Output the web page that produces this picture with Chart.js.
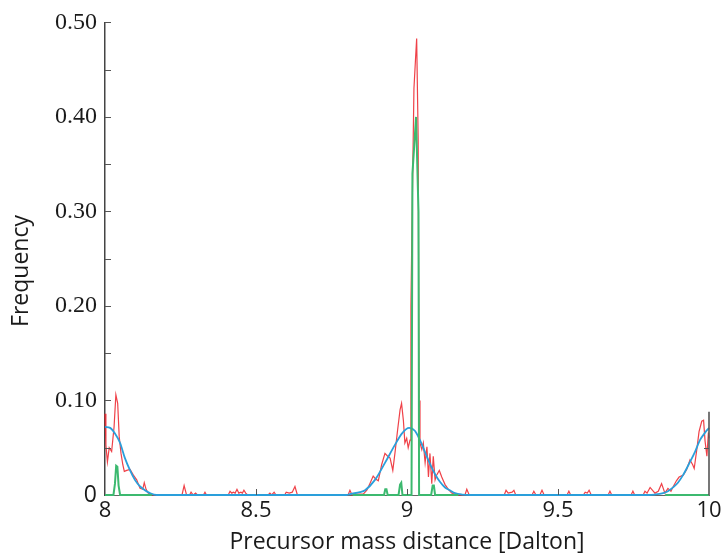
<!DOCTYPE html>
<html lang="en">
<head>
<meta charset="UTF-8">
<title>Precursor mass distance</title>
<script src="https://cdn.jsdelivr.net/npm/chart.js@4"></script>
<style>
  body { margin: 0; background: #fff; }
  #chart { display: block; }
</style>
</head>
<body>
<canvas id="chart" width="726" height="556"></canvas>
<script>
// axis ticks
const xTicks = [8, 8.5, 9, 9.5, 10];
const xTickLabels = ["8", "8.5", "9", "9.5", "10"];
const yTicks = [0, 0.1, 0.2, 0.3, 0.4, 0.5];
const yTickLabels = ["0", "0.10", "0.20", "0.30", "0.40", "0.50"];
const yMinorTicks = [0.05, 0.15, 0.25, 0.35, 0.45];
const xInnerTicks = [8.5, 9, 9.5];
const rightEdgeTop = 0.088;
const yTitle = 'Frequency';

// observed distances (red)
const redX = [8.000, 8.003, 8.008, 8.014, 8.022, 8.030, 8.036, 8.042, 8.047, 8.053,
  8.059, 8.064, 8.072, 8.083, 8.094, 8.105, 8.116, 8.125, 8.130, 8.136, 8.143, 8.156,
  8.255, 8.262, 8.270, 8.280, 8.285, 8.292, 8.300, 8.306, 8.326, 8.331, 8.336,
  8.408, 8.414, 8.420, 8.425, 8.431, 8.437, 8.443, 8.450, 8.455, 8.460, 8.466, 8.472,
  8.540, 8.546, 8.552, 8.560, 8.566, 8.595, 8.600, 8.610, 8.620, 8.629, 8.637,
  8.805, 8.811, 8.818, 8.833, 8.855, 8.867, 8.877, 8.888, 8.896, 8.905, 8.916, 8.927,
  8.936, 8.944, 8.953, 8.960, 8.969, 8.977, 8.982, 8.988, 8.993, 8.999, 9.004, 9.010,
  9.013, 9.018, 9.023, 9.028, 9.032, 9.037, 9.040, 9.043, 9.049, 9.054, 9.060, 9.066,
  9.071, 9.076, 9.082, 9.087, 9.093, 9.098, 9.107, 9.115, 9.126, 9.137, 9.148, 9.165,
  9.192, 9.198, 9.206, 9.322, 9.328, 9.335, 9.348, 9.354, 9.360, 9.414, 9.420, 9.427,
  9.440, 9.447, 9.454, 9.530, 9.536, 9.542, 9.584, 9.590, 9.597, 9.603, 9.610,
  9.666, 9.672, 9.678, 9.742, 9.748, 9.754, 9.782, 9.788, 9.795, 9.805, 9.821, 9.832,
  9.843, 9.854, 9.864, 9.874, 9.880, 9.892, 9.901, 9.915, 9.926, 9.937, 9.946, 9.951,
  9.960, 9.967, 9.976, 9.982, 9.987, 9.993, 9.998, 10.000];
const redY = [0.086, 0.053, 0.035, 0.050, 0.046, 0.072, 0.106, 0.097, 0.062, 0.044,
  0.032, 0.025, 0.026, 0.027, 0.021, 0.016, 0.007, 0.006, 0.013, 0.006, 0.002, 0,
  0, 0.010, 0, 0, 0.003, 0, 0.002, 0, 0, 0.003, 0,
  0, 0.004, 0.002, 0.003, 0.002, 0.006, 0.002, 0.003, 0.002, 0.005, 0.002, 0,
  0, 0.002, 0, 0.003, 0, 0, 0.003, 0.002, 0.003, 0.009, 0,
  0, 0.005, 0, 0.001, 0.001, 0.005, 0.012, 0.020, 0.017, 0.015, 0.032, 0.044,
  0.041, 0.039, 0.026, 0.044, 0.069, 0.090, 0.097, 0.079, 0.055, 0.060, 0.050, 0.058,
  0.200, 0.320, 0.430, 0.460, 0.483, 0.377, 0.100, 0.055, 0.048, 0.055, 0.034, 0.051,
  0.019, 0.044, 0.012, 0.041, 0.016, 0.021, 0.026, 0.019, 0.011, 0.006, 0.002, 0,
  0, 0.006, 0, 0, 0.005, 0.002, 0.003, 0.005, 0, 0, 0.004, 0,
  0, 0.005, 0, 0, 0.004, 0, 0, 0.003, 0.002, 0.005, 0,
  0, 0.004, 0, 0, 0.004, 0, 0, 0.004, 0.002, 0.008, 0.002, 0.004,
  0.012, 0.002, 0.007, 0.004, 0.008, 0.015, 0.019, 0.021, 0.027, 0.037, 0.032, 0.028,
  0.049, 0.067, 0.078, 0.079, 0.057, 0.041, 0.066, 0.060];

// fitted curve (blue)
const fitX = [8.000, 8.017, 8.033, 8.050, 8.066, 8.083, 8.099, 8.116, 8.132, 8.149, 8.171,
  8.800, 8.811, 8.844, 8.861, 8.894, 8.927, 8.960, 8.983, 9.007, 9.026, 9.043, 9.060,
  9.076, 9.093, 9.109, 9.126, 9.142, 9.159, 9.182, 9.210,
  9.800, 9.821, 9.848, 9.864, 9.881, 9.897, 9.914, 9.937, 9.954, 9.970, 9.987, 10.000];
const fitY = [0.072, 0.071, 0.065, 0.055, 0.039, 0.026, 0.016, 0.009, 0.005, 0.002, 0,
  0, 0.001, 0.003, 0.005, 0.016, 0.034, 0.053, 0.065, 0.071, 0.068, 0.058, 0.045,
  0.033, 0.022, 0.014, 0.008, 0.005, 0.002, 0.0005, 0,
  0, 0.0005, 0.002, 0.004, 0.008, 0.013, 0.021, 0.035, 0.046, 0.058, 0.066, 0.071];

// expected distances (green), null = gap
const greenX = [8.000, 8.028, 8.033, 8.037, 8.041, 8.045, 8.050, 8.155, 8.156,
  8.820, 8.924, 8.928, 8.932, 8.936, 8.972, 8.977, 8.981, 8.985, 9.015, 9.018, 9.030,
  9.038, 9.040, 9.080, 9.085, 9.089, 9.093, 9.170, 9.171, 9.855, 10.000];
const greenY = [0, 0, 0.012, 0.031, 0.030, 0.010, 0, 0, null,
  0, 0, 0.006, 0.006, 0, 0, 0.011, 0.013, 0, 0, 0.340, 0.400,
  0.300, 0, 0, 0.010, 0.010, 0, 0, null, 0, 0];

function pts(xs, ys) {
  return xs.map((x, i) => ({ x: x, y: ys[i] }));
}

const sansFam = "'Open Sans', 'DejaVu Sans', sans-serif";
const serifFam = "'Liberation Serif', 'DejaVu Serif', serif";

// petits traits vers l'intérieur + bout d'axe à droite + titre vertical
const innerTicks = {
  id: 'innerTicks',
  afterDatasetsDraw(chart) {
    const ctx = chart.ctx;
    const x = chart.scales.x, y = chart.scales.y;
    ctx.save();
    ctx.strokeStyle = '#555';
    ctx.lineWidth = 1;
    ctx.beginPath();
    yTicks.concat(yMinorTicks).forEach(v => {
      if (v === 0) return;
      const py = Math.round(y.getPixelForValue(v)) + 0.5;
      ctx.moveTo(x.left, py);
      ctx.lineTo(x.left + 6, py);
    });
    xInnerTicks.forEach(v => {
      const px = Math.round(x.getPixelForValue(v)) + 0.5;
      ctx.moveTo(px, y.bottom);
      ctx.lineTo(px, y.bottom - 6);
    });
    const ex = x.getPixelForValue(10);
    const ty = Math.round(y.getPixelForValue(0.05)) + 0.5;
    ctx.moveTo(ex, ty);
    ctx.lineTo(ex - 5, ty);
    ctx.stroke();
    ctx.lineWidth = 1.6;
    ctx.beginPath();
    ctx.moveTo(ex, y.bottom);
    ctx.lineTo(ex, y.getPixelForValue(rightEdgeTop));
    ctx.stroke();

    // titre de l'axe y, un peu plus bas que le centre
    ctx.translate(21, 271);
    ctx.rotate(-Math.PI / 2);
    ctx.fillStyle = '#1a1a1a';
    ctx.font = "23px " + sansFam;
    ctx.textAlign = 'center';
    ctx.textBaseline = 'middle';
    ctx.fillText(yTitle, 0, 0);
    ctx.restore();
  }
};

new Chart(document.getElementById('chart'), {
  type: 'scatter',
  data: {
    datasets: [
      {
        label: 'expected',
        data: pts(greenX, greenY),
        showLine: true,
        borderColor: '#3cb96f',
        borderWidth: 2,
        pointRadius: 0,
        spanGaps: false,
        clip: false,
        order: 0
      },
      {
        label: 'fit',
        data: pts(fitX, fitY),
        showLine: true,
        borderColor: '#2a9fdb',
        borderWidth: 1.8,
        pointRadius: 0,
        cubicInterpolationMode: 'monotone',
        clip: false,
        order: 1
      },
      {
        label: 'observed',
        data: pts(redX, redY),
        showLine: true,
        borderColor: 'rgba(236, 32, 40, 0.85)',
        borderWidth: 1.2,
        pointRadius: 0,
        clip: false,
        order: 2
      }
    ]
  },
  options: {
    responsive: false,
    animation: false,
    layout: { padding: { left: 0, right: 17, top: 22, bottom: 0 } },
    plugins: { legend: { display: false }, tooltip: { enabled: false } },
    scales: {
      x: {
        type: 'linear',
        min: 8,
        max: 10,
        afterBuildTicks: s => { s.ticks = xTicks.map(v => ({ value: v })); },
        afterFit: s => { s.height = 61; },
        grid: { display: false, drawTicks: false },
        border: { display: true, color: '#666', width: 1 },
        ticks: {
          padding: 3,
          color: '#1a1a1a',
          font: { family: sansFam, size: 22 },
          maxRotation: 0,
          callback: v => xTickLabels[xTicks.indexOf(v)]
        },
        title: {
          display: true,
          text: 'Precursor mass distance [Dalton]',
          color: '#1a1a1a',
          font: { family: sansFam, size: 23 },
          padding: { top: 0, bottom: 0 }
        }
      },
      y: {
        type: 'linear',
        min: 0,
        max: 0.5,
        afterBuildTicks: s => { s.ticks = yTicks.map(v => ({ value: v })); },
        afterFit: s => { s.width = 105; },
        grid: { display: false, drawTicks: false },
        border: { display: true, color: '#444', width: 1.5 },
        ticks: {
          padding: 8,
          color: '#1a1a1a',
          font: c => (c.tick && c.tick.value === 0)
            ? { family: sansFam, size: 23 }
            : { family: serifFam, size: 24 },
          callback: v => yTickLabels[yTicks.findIndex(t => Math.abs(t - v) < 1e-9)]
        },
        title: { display: false }
      }
    }
  },
  plugins: [innerTicks]
});
</script>
</body>
</html>
